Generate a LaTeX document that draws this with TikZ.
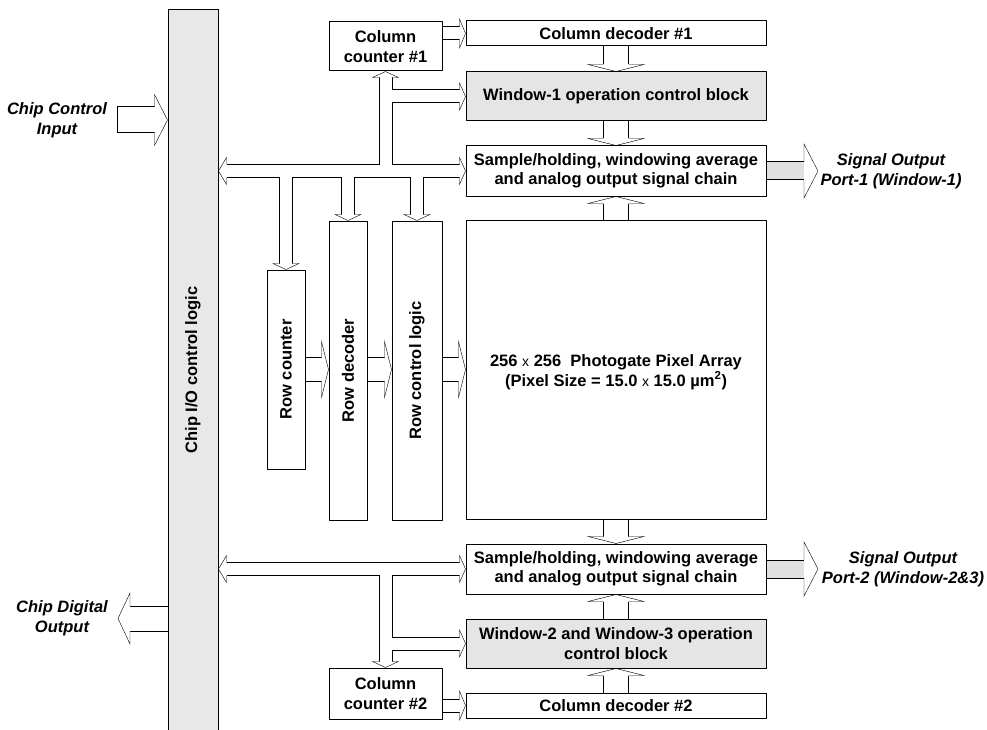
\documentclass[tikz,border=0pt]{standalone}
\usepackage{fontspec}
\setmainfont{Liberation Sans}
\usetikzlibrary{calc,backgrounds}
\tikzset{
  blk/.style={draw,line width=1pt,fill=white,inner sep=0pt,align=center,
    font=\fontsize{16.5}{19.5}\selectfont\bfseries},
  grau/.style={blk,fill=black!10},
  txt/.style={inner sep=0pt,align=center,font=\fontsize{16.5}{19.5}\selectfont\bfseries},
  ausz/.style={inner sep=0pt,align=center,font=\fontsize{16.5}{19.5}\selectfont\bfseries\itshape},
}
\def\mal{{\mdseries\fontsize{14}{14}\selectfont x}}
\begin{document}
\begin{tikzpicture}[x=1pt,y=1pt,line width=1pt,line join=round]
\useasboundingbox (0,0) rectangle (987,-730);

% chip I/O bar
\node[blk,fill=black!9,minimum width=50,minimum height=740,anchor=north] (bar) at (193,-9) {};
\node[txt,rotate=90] (bart) at (193,-370) {Chip I/O control logic};

% column side, top
\node[blk,minimum width=113,minimum height=49] (cc1) at (385.5,-46.5) {Column\\counter \#1};
\node[blk,minimum width=300,minimum height=25] (cd1) at (616,-33.5) {Column decoder \#1};
\node[grau,minimum width=300,minimum height=49] (w1) at (616,-96.5) {Window-1 operation control block};
\node[blk,minimum width=300,minimum height=50] (sh1) at (616,-171) {Sample/holding, windowing average\\and analog output signal chain};

% pixel array
\node[blk,minimum width=300,minimum height=299] (pa) at (616,-369.5) {};
\node[txt] (pat) at (616,-372) {256 \mal{} 256 \ Photogate Pixel Array\\(Pixel Size = 15.0 \mal{} 15.0 µm\textsuperscript{2})};

% column side, bottom
\node[blk,minimum width=300,minimum height=50] (sh2) at (616,-569) {Sample/holding, windowing average\\and analog output signal chain};
\node[grau,minimum width=300,minimum height=49] (w23) at (616,-643.5) {Window-2 and Window-3 operation\\control block};
\node[blk,minimum width=300,minimum height=25] (cd2) at (616,-705.5) {Column decoder \#2};
\node[blk,minimum width=113,minimum height=51] (cc2) at (385.5,-693.5) {Column\\counter \#2};

% row side
\node[blk,minimum width=38,minimum height=199] (rc) at (286,-369.5) {};
\node[blk,minimum width=38,minimum height=299] (rd) at (348,-370.5) {};
\node[blk,minimum width=50,minimum height=299] (rl) at (417,-370.5) {};
\node[txt,rotate=90] (rct) at (rc) {Row counter};
\node[txt,rotate=90] (rdt) at (rd) {Row decoder};
\node[txt,rotate=90] (rlt) at (rl) {Row control logic};

% outside labels
\node[ausz] (cint) at (57,-120) {Chip Control\\Input};
\node[ausz] (coutt) at (62,-618) {Chip Digital\\Output};
\node[ausz] (so1t) at (891,-171) {Signal Output\\Port-1 (Window-1)};
\node[ausz] (so2t) at (903,-569) {Signal Output\\Port-2 (Window-2\&3)};

\coordinate (cin) at (117,-120);
\coordinate (cout) at (118,-618.5);
\coordinate (so1) at (818,-171);
\coordinate (so2) at (818,-569);
\coordinate (o1) at (sh1.west -| bar.east);
\coordinate (o2) at (sh2.west -| bar.east);

% head: #1 tail, #2 tip, #3 shaft half width, #4 head half width, #5 head length
\def\spitze#1#2#3#4#5{%
\coordinate (fb) at ($#2!#5!#1$);
\filldraw[fill=white] ($(fb)!#3!90:#2$) -- ($(fb)!#4!90:#2$) -- #2
	-- ($(fb)!#4!-90:#2$) -- ($(fb)!#3!-90:#2$);
}
% hollow arrow, #6 inner colour
\def\pfeil#1#2#3#4#5#6{%
\coordinate (fb) at ($#2!#5!#1$);
\draw[line width=2*#3+1pt] #1 -- (fb);
\draw[#6,line width=2*#3-1pt] #1 -- (fb);
\spitze{#1}{#2}{#3}{#4}{#5}
}

\def\busweg{%
($(o1)!8pt!(sh1.west)$) -- ($(sh1.west)!6pt!(o1)$)
(cc1.south |- o1) -- ($(cc1.south)+(0,-6)$)
(cc1.south |- w1.west) -- ($(w1.west)+(-6,0)$)
(rc.north |- o1) -- ($(rc.north)+(0,6)$)
(rd.north |- o1) -- ($(rd.north)+(0,6)$)
(rl.north |- o1) -- ($(rl.north)+(0,6)$)
($(o2)!8pt!(sh2.west)$) -- ($(sh2.west)!6pt!(o2)$)
(cc2.north |- o2) -- ($(cc2.north)+(0,6)$)
(cc2.north |- w23.west) -- ($(w23.west)+(-6,0)$)
}

\begin{pgfonlayer}{background}
% buses
\draw[line width=14pt] \busweg;
\draw[white,line width=12pt] \busweg;
\spitze{(sh1.west)}{(o1)}{6.5pt}{13.5pt}{8pt}
\spitze{(o1)}{(sh1.west)}{6.5pt}{13.5pt}{6pt}
\spitze{(cc1.south |- o1)}{(cc1.south)}{6.5pt}{13pt}{6pt}
\spitze{(cc1.south |- w1.west)}{(w1.west)}{6.5pt}{13.5pt}{6pt}
\spitze{(rc.north |- o1)}{(rc.north)}{6.5pt}{13pt}{6pt}
\spitze{(rd.north |- o1)}{(rd.north)}{6.5pt}{13pt}{6pt}
\spitze{(rl.north |- o1)}{(rl.north)}{6.5pt}{13pt}{6pt}
\spitze{(sh2.west)}{(o2)}{6.5pt}{13.5pt}{8pt}
\spitze{(o2)}{(sh2.west)}{6.5pt}{13.5pt}{6pt}
\spitze{(cc2.north |- o2)}{(cc2.north)}{6.5pt}{13pt}{6pt}
\spitze{(cc2.north |- w23.west)}{(w23.west)}{6.5pt}{13.5pt}{6pt}

% block arrows
\pfeil{(cd1.south)}{(w1.north)}{12.5pt}{28pt}{7pt}{white}
\pfeil{(w1.south)}{(sh1.north)}{12.5pt}{28pt}{7pt}{white}
\pfeil{(pa.north)}{(sh1.south)}{12.5pt}{28pt}{7pt}{white}
\pfeil{(pa.south)}{(sh2.north)}{12.5pt}{28pt}{7pt}{white}
\pfeil{(w23.north)}{(sh2.south)}{12.5pt}{28pt}{7pt}{white}
\pfeil{(cd2.north)}{(w23.south)}{12.5pt}{28pt}{7pt}{white}
\pfeil{(rc.east)}{(rc.east -| rd.west)}{12pt}{28pt}{7pt}{white}
\pfeil{(rc.east -| rd.east)}{(rc.east -| rl.west)}{12pt}{28pt}{7pt}{white}
\pfeil{(rc.east -| rl.east)}{(rc.east -| pa.west)}{12pt}{28pt}{7pt}{white}
\pfeil{(cd1.west -| cc1.east)}{(cd1.west)}{6.5pt}{14.5pt}{6pt}{white}
\pfeil{(cd2.west -| cc2.east)}{(cd2.west)}{6.5pt}{14.5pt}{6pt}{white}

% chip in/out and signal outputs
\pfeil{(cin)}{(cin -| bar.west)}{13pt}{25.5pt}{13pt}{white}
\draw ($(cin)+(0,13)$) -- ($(cin)+(0,-13)$);
\pfeil{(cout -| bar.west)}{(cout)}{12.5pt}{25.5pt}{12pt}{white}
\pfeil{(sh1.east)}{(so1)}{9pt}{27pt}{14pt}{black!12}
\pfeil{(sh2.east)}{(so2)}{9pt}{27pt}{14pt}{black!12}
\end{pgfonlayer}

\end{tikzpicture}
\end{document}
